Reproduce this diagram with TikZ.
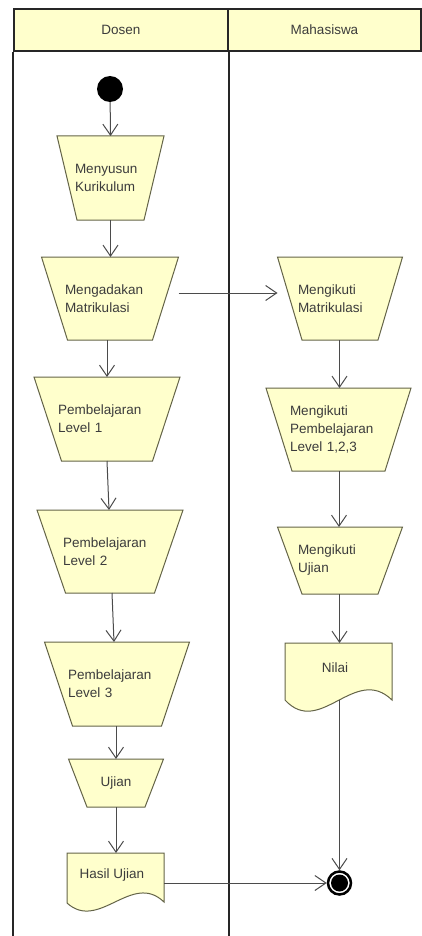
\documentclass[tikz,border=0pt]{standalone}
\usepackage{fontspec}
\setmainfont{Liberation Sans}
\usetikzlibrary{arrows.meta,calc}
\definecolor{actfill}{RGB}{255,255,204}
\definecolor{actline}{RGB}{100,100,72}
\definecolor{txtcol}{RGB}{60,60,60}
\definecolor{flowcol}{RGB}{75,75,75}
\tikzset{
  box/.style={draw=none, inner sep=0pt, outer sep=0pt, text=txtcol, font=\fontsize{13.5}{18}\selectfont},
  actshape/.style={fill=actfill, draw=actline, line width=1pt, line join=miter},
  flowline/.style={draw=flowcol, line width=1pt, -{Straight Barb[length=11pt,width=15pt,line width=1pt]}},
  lanebar/.style={draw=black!85, line width=2pt},
  lanehead/.style={fill=actfill, draw=black!85, line width=2pt, inner sep=0pt, text=txtcol, font=\fontsize{13.5}{18}\selectfont},
}
% name, cx, cy, wtop, wbot, h, textwidth, text
\newcommand{\actnode}[8]{%
  \filldraw[actshape] ({#2-#4/2},{#3-#6/2}) -- ({#2+#4/2},{#3-#6/2}) -- ({#2+#5/2},{#3+#6/2}) -- ({#2-#5/2},{#3+#6/2}) -- cycle;
  \node[box, minimum width=#4pt, minimum height=#6pt, text width=#7pt, align=left] (#1) at (#2,#3) {#8};
}
\begin{document}
\begin{tikzpicture}[x=1pt,y=-1pt]
\useasboundingbox (0,0) rectangle (422,936);
\fill[white] (0,0) rectangle (422,936);

% swimlane headers
\node[lanehead, minimum width=214pt, minimum height=42pt] (hdosen) at (121,30) {Dosen};
\node[lanehead, minimum width=193pt, minimum height=42pt] (hmhs) at (324.5,30) {Mahasiswa};
\draw[lanebar] (hdosen.south west) -- (hdosen.south west |- 0,940);
\draw[lanebar] (hdosen.south east) -- (hdosen.south east |- 0,940);

% start
\node[circle, fill=black, minimum size=26pt, inner sep=0pt] (start) at (110,89) {};

% Dosen activities
\actnode{menyusun}{110.5}{178}{107}{67}{84}{71}{Menyusun\\Kurikulum}
\actnode{mengadakan}{110}{298.5}{137}{85}{83}{90}{Mengadakan\\Matrikulasi}
\actnode{lvla}{107}{419}{146}{91}{84}{98}{Pembelajaran\\Level 1}
\actnode{lvlb}{110}{551.5}{146}{89}{83}{94}{Pembelajaran\\Level 2}
\actnode{lvlc}{117}{684}{145}{89}{84}{98}{Pembelajaran\\Level 3}
\filldraw[actshape] (68.5,759) -- (163.5,759) -- (145,807) -- (87,807) -- cycle;
\node[box, minimum width=95pt, minimum height=48pt] (ujian) at (116,783) {Ujian};

% Mahasiswa activities
\actnode{ikutmat}{340}{298.5}{125}{76}{83}{84}{Mengikuti\\Matrikulasi}
\actnode{ikutlvl}{338.5}{429.5}{145}{93}{83}{97}{Mengikuti\\Pembelajaran\\Level 1,2,3}
\actnode{ikutujian}{340}{560.5}{125}{76}{67}{84}{Mengikuti\\Ujian}

% documents
\filldraw[actshape] (285,643) -- (392,643) -- (392,700) .. controls (355,664) and (320,738) .. (285,700) -- cycle;
\node[box, minimum width=107pt, minimum height=57pt] (nilai) at (338.5,671.5) {};
\node[box] (nilaitxt) at (335,668) {Nilai};

\filldraw[actshape] (67,853) -- (164,853) -- (164,902) .. controls (132,871) and (99,932) .. (67,903) -- cycle;
\node[box, minimum width=97pt, minimum height=50pt] (hasil) at (115.5,878) {};
\node[box] (hasiltxt) at (112,875) {Hasil Ujian};

% final
\node[circle, draw=black, line width=2.5pt, fill=white, minimum size=23pt, inner sep=0pt] (final) at (339.5,883) {};
\fill[black] (final.center) circle (8.5pt);

% flows
\draw[flowline] (start) -- (menyusun.north);
\draw[flowline] (menyusun.south) -- (menyusun.south |- mengadakan.north);
\draw[flowline] ([yshift=5.5pt]mengadakan.east) -- ([yshift=5.5pt]ikutmat.west);
\draw[flowline] (mengadakan.south -| lvla.north) -- (lvla.north);
\draw[flowline] (lvla.south) -- ([xshift=-1pt]lvlb.north);
\draw[flowline] ([xshift=2pt]lvlb.south) -- ([xshift=-3pt]lvlc.north);
\draw[flowline] (lvlc.south -| ujian.north) -- (ujian.north);
\draw[flowline] (ujian.south) -- (ujian.south |- hasil.north);
\draw[flowline] ([xshift=-0.5pt]ikutmat.south) -- ([xshift=-0.5pt]ikutmat.south |- ikutlvl.north);
\draw[flowline] ([xshift=0.5pt]ikutlvl.south) -- ([xshift=0.5pt]ikutlvl.south |- ikutujian.north);
\draw[flowline] ([xshift=-0.5pt]ikutujian.south) -- ([xshift=-0.5pt]ikutujian.south |- nilai.north);
\draw[flowline] (nilai.south -| final.north) -- (final.north);
\draw[flowline] (hasil.east |- final.west) -- (final.west);
\end{tikzpicture}
\end{document}
